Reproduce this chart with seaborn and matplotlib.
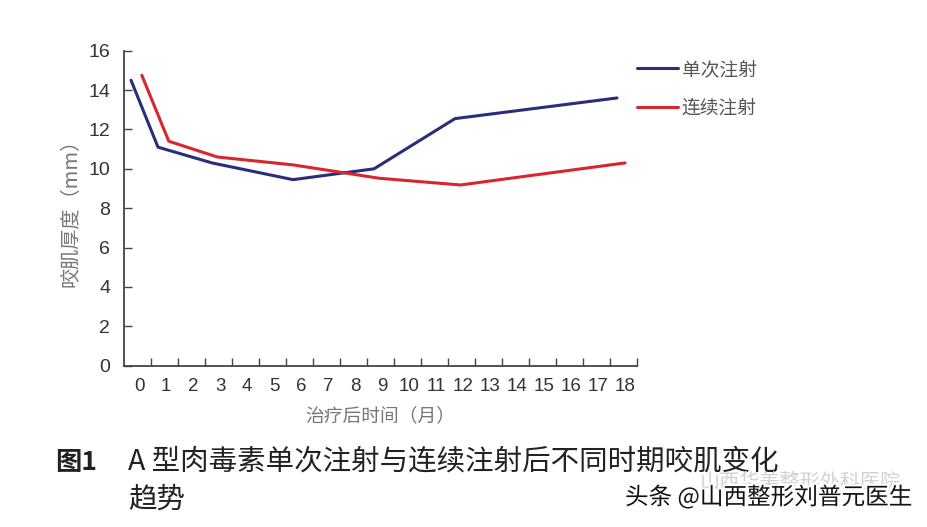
import numpy as np
import pandas as pd
import matplotlib
matplotlib.use("Agg")
import matplotlib.pyplot as plt
import matplotlib.patheffects as pe
from matplotlib import font_manager
import seaborn as sns

# data
blue_x = [0, 1, 3, 6, 9, 12, 18]
blue_y = [14.5, 11.1, 10.3, 9.45, 10.0, 12.55, 13.6]
red_x = [0.4, 1.4, 3.2, 6, 9.2, 12.2, 18.3]
red_y = [14.75, 11.4, 10.6, 10.2, 9.52, 9.18, 10.3]
series_names = ["单次注射", "连续注射"]
month_labels = [str(m) for m in range(19)]
y_ticks = list(range(0, 17, 2))

df = pd.concat([
    pd.DataFrame({"月": blue_x, "厚度": blue_y, "组": series_names[0]}),
    pd.DataFrame({"月": red_x, "厚度": red_y, "组": series_names[1]}),
])

sns.set_style("white")
cjk = "Noto Sans CJK SC"
plt.rcParams["font.family"] = [cjk, "DejaVu Sans"]
names = {f.name for f in font_manager.fontManager.ttflist}
num_font = "Liberation Sans Narrow" if "Liberation Sans Narrow" in names else "Liberation Sans"

fig = plt.figure(figsize=(9.27, 5.27), dpi=100)
ax = fig.add_axes([124 / 927, 1 - 365.7 / 527, (636.7 - 124) / 927, (365.7 - 50.7) / 527])

sns.lineplot(data=df, x="月", y="厚度", hue="组", sort=False, estimator=None,
             palette=["#2a2d78", "#d8262e"], linewidth=2.2, ax=ax)

ax.set_xlim(-0.26, 18.73)
ax.set_ylim(0, 16)

# labels sit a bit left of the tick marks in the original
ax.set_xticks([m + 0.3 for m in range(19)])
ax.set_xticklabels(month_labels, fontfamily=num_font, fontsize=13.5, color="#333333")
ax.tick_params(axis="x", which="major", bottom=True, length=0, pad=9)
ax.set_xticks([m + 0.73 for m in range(19)], minor=True)
ax.tick_params(axis="x", which="minor", bottom=True, direction="in", length=6, width=1, color="#444444")

ax.set_yticks(y_ticks)
ax.set_yticklabels([str(v) for v in y_ticks], fontfamily=num_font, fontsize=14, color="#333333")
ax.tick_params(axis="y", left=True, direction="in", length=6, width=1, color="#444444", pad=10)

for s in ["top", "right"]:
    ax.spines[s].set_visible(False)
for s in ["left", "bottom"]:
    ax.spines[s].set_color("#444444")
    ax.spines[s].set_linewidth(1.3)

ax.set_xlabel("治疗后时间（月）", fontsize=13.5, color="#777777", labelpad=7)
ax.set_ylabel("咬肌厚度（mm）", fontsize=14.5, color="#777777", labelpad=5)

leg = ax.legend(loc="upper left", bbox_to_anchor=(620 / 927, 1 - 42 / 527),
                bbox_transform=fig.transFigure, frameon=False, fontsize=13.5,
                handlelength=2.2, handletextpad=0.2, labelspacing=0.95)
for t in leg.get_texts():
    t.set_color("#555555")

# caption
fig.text(55 / 927, 1 - 462 / 527, "图1", fontsize=19, fontweight="bold", color="#222222", va="center")
fig.text(128 / 927, 1 - 462 / 527, "A 型肉毒素单次注射与连续注射后不同时期咬肌变化",
         fontsize=20.5, color="#222222", va="center")
fig.text(128 / 927, 1 - 500 / 527, "趋势", fontsize=20.5, color="#222222", va="center")

# watermarks
fig.text(700 / 927, 1 - 482 / 527, "山西华美整形外科医院", fontsize=14.5, color="#d2d2d2", va="center")
fig.text(625 / 927, 1 - 497 / 527, "头条 @山西整形刘普元医生", fontsize=17, color="#111111", va="center",
         path_effects=[pe.withStroke(linewidth=3, foreground="white")])

fig.savefig("out.png", dpi=100)
